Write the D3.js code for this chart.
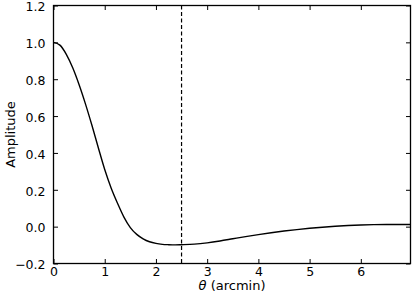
<!DOCTYPE html>
<html><head><meta charset="utf-8">
<script src="https://cdn.jsdelivr.net/npm/d3@7"></script>
<style>body{margin:0;background:#fff}svg{display:block}text{font-family:"DejaVu Sans",sans-serif;fill:#000}</style>
</head><body><svg id="c" width="415" height="300"></svg>
<script>
const thetaArcmin = [0,0.125,0.25,0.375,0.5,0.625,0.75,0.875,1,1.125,1.25,1.375,1.5,1.625,1.75,1.875,2,2.125,2.25,2.375,2.5,2.75,3,3.25,3.5,3.75,4,4.25,4.5,4.75,5,5.25,5.5,5.75,6,6.25,6.5,6.75,7];
const amplitude = [1.0,0.985,0.935,0.862,0.77,0.665,0.55,0.428,0.31,0.21,0.127,0.052,-0.005,-0.042,-0.066,-0.082,-0.091,-0.096,-0.098,-0.099,-0.098,-0.095,-0.088,-0.078,-0.066,-0.054,-0.043,-0.033,-0.024,-0.016,-0.009,-0.003,0.002,0.006,0.009,0.011,0.012,0.012,0.012];
const xTicks = [0,1,2,3,4,5,6];
const yTicks = [-0.2,0,0.2,0.4,0.6,0.8,1.0,1.2];
const markerTheta = 2.5;

const svg = d3.select("#c");
const L=53.5,R=410.5,T=5.5,B=263.5;
const x = d3.scaleLinear().domain([0,6.97]).range([L,R]);
const y = d3.scaleLinear().domain([-0.2,1.2]).range([B,T]);
const fmtY = d => (d<0?"\u2212":"")+Math.abs(d).toFixed(1);
const tl = 4.5;

const gB = svg.append("g").attr("transform",`translate(0,${B})`).call(d3.axisBottom(x).tickValues(xTicks).tickSizeInner(-tl).tickSizeOuter(0).tickPadding(4).tickFormat(d3.format("d")));
const gT = svg.append("g").attr("transform",`translate(0,${T})`).call(d3.axisTop(x).tickValues(xTicks).tickSizeInner(-tl).tickSizeOuter(0).tickFormat(""));
const gL = svg.append("g").attr("transform",`translate(${L},0)`).call(d3.axisLeft(y).tickValues(yTicks).tickSizeInner(-tl).tickSizeOuter(0).tickPadding(8).tickFormat(fmtY));
const gR = svg.append("g").attr("transform",`translate(${R},0)`).call(d3.axisRight(y).tickValues(yTicks).tickSizeInner(-tl).tickSizeOuter(0).tickFormat(""));
[gB,gT,gL,gR].forEach(g=>{
  g.select(".domain").remove();
  g.selectAll(".tick line").attr("stroke","#000").attr("stroke-width",1);
  g.selectAll("text").attr("font-size",12.5).attr("font-family","DejaVu Sans").attr("fill","#000");
});
gB.selectAll(".tick text").attr("dy","0.71em");
gL.selectAll(".tick text").attr("dy","0.42em");

svg.append("clipPath").attr("id","clip").append("rect").attr("x",L).attr("y",T).attr("width",R-L).attr("height",B-T);
svg.append("path").datum(thetaArcmin.map((t,i)=>[t,amplitude[i]]))
  .attr("fill","none").attr("stroke","#000").attr("stroke-width",1.4)
  .attr("clip-path","url(#clip)")
  .attr("d",d3.line().x(d=>x(d[0])).y(d=>y(d[1])).curve(d3.curveMonotoneX));

svg.append("line").attr("x1",x(markerTheta)).attr("x2",x(markerTheta)).attr("y1",T).attr("y2",B)
  .attr("stroke","#000").attr("stroke-width",1.2).attr("stroke-dasharray","4,2.5");

svg.append("rect").attr("x",L).attr("y",T).attr("width",R-L).attr("height",B-T)
  .attr("fill","none").attr("stroke","#000").attr("stroke-width",1.3);

const xl = svg.append("text").attr("x",(L+R)/2).attr("y",290).attr("text-anchor","middle").attr("font-size",13);
xl.append("tspan").attr("font-style","italic").text("θ");
xl.append("tspan").text(" (arcmin)");
svg.append("text").attr("transform",`translate(15,${(T+B)/2}) rotate(-90)`).attr("text-anchor","middle").attr("font-size",13).text("Amplitude");
</script></body></html>
